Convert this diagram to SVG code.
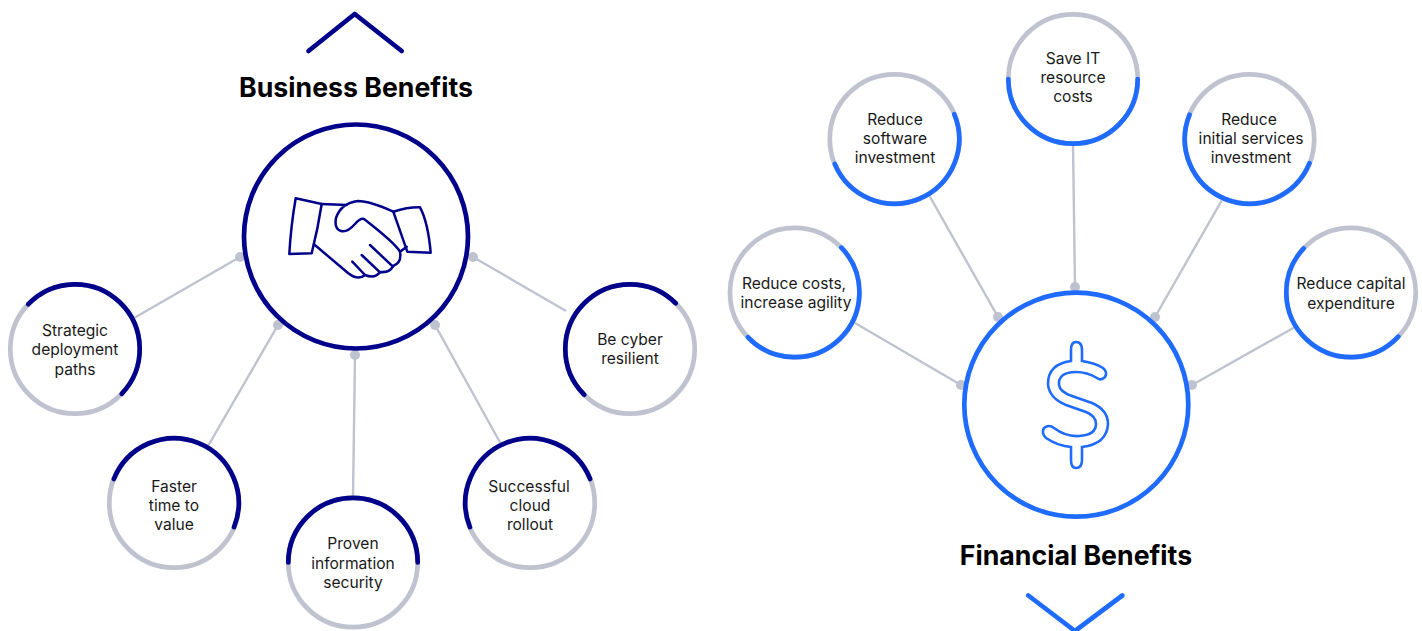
<svg xmlns="http://www.w3.org/2000/svg" width="1422" height="631" viewBox="0 0 1422 631">
<style>
text{font-family:Inter,"Liberation Sans",sans-serif;fill:#1a1a1a;text-anchor:middle}
.t{font-size:15.6px}
.h{font-size:26.7px;font-weight:700;fill:#000}
.g{fill:#fff;stroke:#bfc3d0;stroke-width:4.7}
.n{fill:none;stroke:#00008b;stroke-width:4.7;stroke-linecap:round;stroke-linejoin:round}
.b{fill:none;stroke:#1f6bff;stroke-width:4.7;stroke-linecap:round;stroke-linejoin:round}
.c{stroke:#bfc3d0;stroke-width:2.4;fill:none}
.d{fill:#bfc3d0}
.in{fill:none;stroke:#00008b;stroke-width:2.5;stroke-linejoin:round;stroke-linecap:round}
.ib{fill:none;stroke:#1f6bff;stroke-width:2.6}
</style>
<defs><path id="arc" d="M-64.7 0A64.7 64.7 0 0 1 64.7 0"/></defs>
<g id="connectors">
<path class="c" d="M134 318L240 257M208 446L278 325M353 497L355 355M502 446L435 325M566 311L473 257"/>
<path class="c" d="M855 323L961 385M929 195L998 317M1073 143L1075 287M1222 200L1155 317M1295 327L1192 385"/>
<g class="d"><circle cx="240" cy="257" r="5"/><circle cx="278" cy="325" r="5"/><circle cx="355" cy="355" r="5"/><circle cx="435" cy="325" r="5"/><circle cx="473" cy="257" r="5"/><circle cx="961" cy="385" r="5"/><circle cx="998" cy="317" r="5"/><circle cx="1075" cy="287" r="5"/><circle cx="1155" cy="317" r="5"/><circle cx="1192" cy="385" r="5"/></g>
</g>
<g id="business-chevron"><path class="n" d="M308.500 51L354.700 14L401.700 51"/></g>
<text class="h" x="356" y="97">Business Benefits</text>
<g id="business-hub">
<circle cx="356" cy="236.500" r="112" fill="none" stroke="#00008b" stroke-width="4.700"/>
<path class="in" d="M295.700 198.300L321.700 204Q318 228 311.700 253.300L289.300 254Q291 225 295.700 198.300Z"/>
<path class="in" d="M393.300 211.700Q408 207 420 207.300Q428 222 430.700 252.700L407.300 251.700Z"/>
<path class="in" d="M321.700 204L346.700 205M314 244.300L348 273Q358 281 365 275Q375 279 380 272Q390 273 393 266Q402 263 400 251.700Q395 243 364 219Q360 218 355 224Q347 233 341 231Q334 229 336 218Q341 203 358 201Q370 201 393.300 211.700M400 251.700L406.700 246.700"/>
<path class="in" d="M370 245L393 266.700M361.700 255L380 272.300M352.300 261.700L365 275"/>
</g>
<g id="n1"><circle class="g" cx="75" cy="349" r="64.700"/><use href="#arc" class="n" transform="translate(75 349) rotate(43.800)"/><text class="t"><tspan x="75" y="336">Strategic</tspan><tspan x="75" y="355">deployment</tspan><tspan x="75" y="375">paths</tspan></text></g>
<g id="n2"><circle class="g" cx="174" cy="503" r="64.700"/><use href="#arc" class="n" transform="translate(174 503) rotate(21.800)"/><text class="t"><tspan x="174" y="492">Faster</tspan><tspan x="174" y="511">time to</tspan><tspan x="174" y="530">value</tspan></text></g>
<g id="n3"><circle class="g" cx="353" cy="562.500" r="64.700"/><use href="#arc" class="n" transform="translate(353 562.500)"/><text class="t"><tspan x="353" y="549">Proven</tspan><tspan x="353" y="569">information</tspan><tspan x="353" y="588">security</tspan></text></g>
<g id="n4"><circle class="g" cx="530" cy="503" r="64.700"/><use href="#arc" class="n" transform="translate(530 503) rotate(-21.800)"/><text class="t"><tspan x="529" y="492">Successful</tspan><tspan x="530" y="511">cloud</tspan><tspan x="530" y="530">rollout</tspan></text></g>
<g id="n5"><circle class="g" cx="630" cy="349" r="64.700"/><use href="#arc" class="n" transform="translate(630 349) rotate(-45)"/><text class="t"><tspan x="630" y="345">Be cyber</tspan><tspan x="630" y="364">resilient</tspan></text></g>
<g id="financial-hub">
<circle cx="1076.300" cy="404.700" r="112" fill="none" stroke="#1f6bff" stroke-width="4.700"/>
<path class="ib" d="M1071 361V350Q1071 342 1076 342Q1082 342 1082 350V361Q1095 363 1103 368Q1108 372 1105 377Q1101 381 1097 378Q1087 372 1076 372Q1058 372 1059 385Q1060 392 1072 396L1092 403Q1108 410 1108 424Q1107 444 1082 447V460Q1082 468 1076 468Q1071 468 1071 460V447Q1058 446 1046 438Q1041 433 1044 428Q1049 424 1054 428Q1066 437 1079 436Q1096 435 1096 424Q1096 416 1086 412L1066 405Q1049 398 1048 384Q1048 364 1071 361Z"/>
</g>
<g id="m1"><circle class="g" cx="794.700" cy="292.500" r="64.700"/><use href="#arc" class="b" transform="translate(794.700 292.500) rotate(136.200)"/><text class="t"><tspan x="794" y="289">Reduce costs,</tspan><tspan x="796" y="308">increase agility</tspan></text></g>
<g id="m2"><circle class="g" cx="894.500" cy="139" r="64.700"/><use href="#arc" class="b" transform="translate(894.500 139) rotate(157.400)"/><text class="t"><tspan x="895" y="125">Reduce</tspan><tspan x="895" y="144">software</tspan><tspan x="895" y="163">investment</tspan></text></g>
<g id="m3"><circle class="g" cx="1073" cy="79" r="64.700"/><use href="#arc" class="b" transform="translate(1073 79) rotate(180)"/><text class="t"><tspan x="1073" y="64">Save IT</tspan><tspan x="1073" y="83">resource</tspan><tspan x="1073" y="102">costs</tspan></text></g>
<g id="m4"><circle class="g" cx="1249.500" cy="139" r="64.700"/><use href="#arc" class="b" transform="translate(1249.500 139) rotate(202)"/><text class="t"><tspan x="1249" y="125">Reduce</tspan><tspan x="1251" y="144">initial services</tspan><tspan x="1251" y="163">investment</tspan></text></g>
<g id="m5"><circle class="g" cx="1351" cy="292.500" r="64.700"/><use href="#arc" class="b" transform="translate(1351 292.500) rotate(223)"/><text class="t"><tspan x="1351" y="289">Reduce capital</tspan><tspan x="1351" y="309">expenditure</tspan></text></g>
<text class="h" x="1076" y="565">Financial Benefits</text>
<g id="financial-chevron"><path class="b" d="M1028.300 595.500L1075 631L1122.300 595.500"/></g>
</svg>
